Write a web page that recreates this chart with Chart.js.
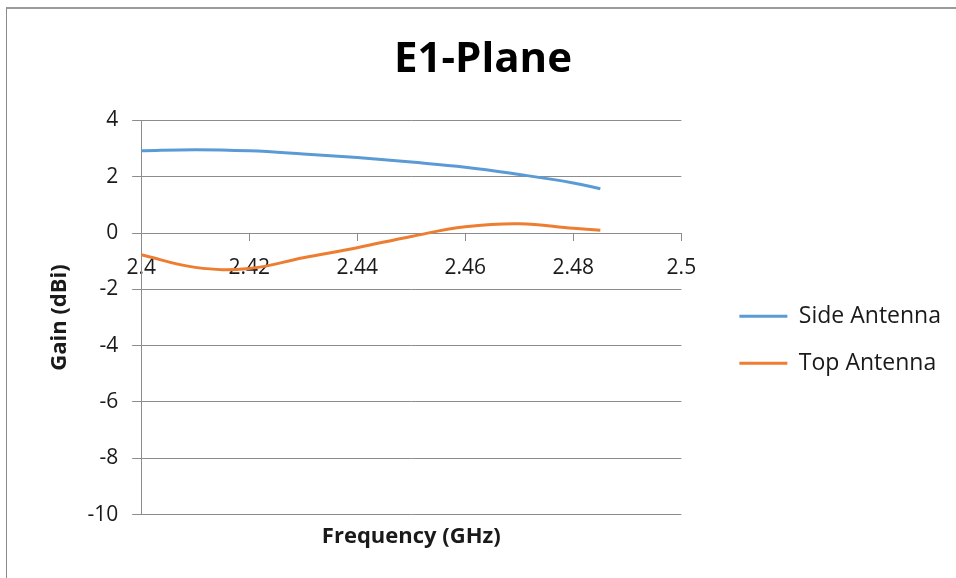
<!DOCTYPE html>
<html>
<head>
<meta charset="utf-8">
<script src="https://cdn.jsdelivr.net/npm/chart.js@4.4.1/dist/chart.umd.min.js"></script>
<style>
	html, body { margin: 0; padding: 0; background: #fff; }
	#wrap { position: relative; width: 956px; height: 578px; overflow: hidden; }
	#frame {
		position: absolute; left: 6px; top: 7px; right: -2px; bottom: -2px;
		border-top: 2px solid #9b9b9b; border-left: 1px solid #8a8a8a;
		pointer-events: none;
	}
</style>
</head>
<body>
<div id="wrap">
	<canvas id="chart-e1-plane" width="956" height="578"></canvas>
	<div id="frame"></div>
</div>
<script>
// Data
const FREQ_GHZ = [2.4, 2.41, 2.42, 2.43, 2.44, 2.45, 2.46, 2.47, 2.48, 2.485];
const SIDE_GAIN = [2.92, 2.96, 2.92, 2.81, 2.68, 2.52, 2.34, 2.08, 1.78, 1.57];
const TOP_GAIN = [-0.77, -1.22, -1.26, -0.88, -0.52, -0.12, 0.22, 0.33, 0.17, 0.1];

const X_TICKS = [2.4, 2.42, 2.44, 2.46, 2.48, 2.5];
const Y_TICKS = [-10, -8, -6, -4, -2, 0, 2, 4];

const COLORS = {
	side: "#5b9bd5",
	top: "#ed7d31",
	grid: "#8c8c8c",
	text: "#1a1a1a",
};
const FONT = "'Open Sans', sans-serif";

const toPoints = (ys) => FREQ_GHZ.map((x, i) => ({ x, y: ys[i] }));

const lineDataset = (label, ys, color) => ({
	label,
	data: toPoints(ys),
	borderColor: color,
	backgroundColor: color,
	borderWidth: 3,
	tension: 0.4,
	pointRadius: 0,
	pointHoverRadius: 0,
	fill: false,
});

const CHART_DATA = {
	datasets: [
		lineDataset("Side Antenna", SIDE_GAIN, COLORS.side),
		lineDataset("Top Antenna", TOP_GAIN, COLORS.top),
	],
};

const CHART_CONFIG = {
	type: "line",
	data: CHART_DATA,
	options: {
		responsive: false,
		animation: false,
		devicePixelRatio: 1,
		layout: {
			padding: { left: 15, right: 5, top: 10, bottom: 28 },
		},
		scales: {
			x: {
				type: "linear",
				position: { y: 0 },
				min: X_TICKS[0],
				max: X_TICKS[X_TICKS.length - 1],
				z: 1,
				afterBuildTicks: (scale) => {
					scale.ticks = X_TICKS.map((value) => ({ value }));
				},
				border: { display: true, color: COLORS.grid, width: 1 },
				grid: {
					drawOnChartArea: false,
					drawTicks: true,
					tickLength: 7,
					color: COLORS.grid,
				},
				ticks: {
					color: COLORS.text,
					font: { family: FONT, size: 21 },
					padding: 15,
					maxRotation: 0,
					autoSkip: false,
					callback: (value) => String(Number(value.toFixed(2))),
				},
			},
			y: {
				type: "linear",
				position: "left",
				min: Y_TICKS[0],
				max: Y_TICKS[Y_TICKS.length - 1],
				afterBuildTicks: (scale) => {
					scale.ticks = Y_TICKS.map((value) => ({ value }));
				},
				border: { display: true, color: COLORS.grid, width: 1 },
				grid: {
					color: COLORS.grid,
					lineWidth: 1,
					tickLength: 9,
				},
				ticks: {
					color: COLORS.text,
					font: { family: FONT, size: 21 },
					padding: 14,
				},
				title: {
					display: true,
					text: "Gain (dBi)",
					color: COLORS.text,
					font: { family: FONT, size: 22, weight: "bold" },
					padding: { top: 32, bottom: 0 },
				},
			},
			// spacer between the plot and the legend
			gap: {
				type: "linear",
				position: "right",
				display: true,
				min: 0,
				max: 1,
				border: { display: false },
				grid: { display: false, drawTicks: false },
				ticks: { display: false },
				afterFit: (scale) => {
					scale.width = 34;
				},
			},
		},
		plugins: {
			title: {
				display: true,
				text: "E1-Plane",
				color: "#000",
				font: { family: FONT, size: 42, weight: "bold" },
				padding: { top: 25, bottom: 35 },
			},
			subtitle: {
				display: true,
				position: "bottom",
				fullSize: false,
				text: "Frequency (GHz)",
				color: COLORS.text,
				font: { family: FONT, size: 22, weight: "bold" },
				padding: { top: 9, bottom: 0 },
			},
			legend: {
				display: true,
				position: "right",
				align: "center",
				maxWidth: 300,
				// empty title only pushes the entries down to the plot's middle
				title: {
					display: true,
					text: "",
					font: { size: 12 },
					padding: { top: 0, bottom: 105 },
				},
				labels: {
					usePointStyle: true,
					pointStyle: "line",
					pointStyleWidth: 48,
					color: COLORS.text,
					font: { family: FONT, size: 23 },
					padding: 24,
				},
			},
			tooltip: { enabled: false },
		},
	},
};

const CHART_WRAPPER = document.getElementById("chart-e1-plane");
if (CHART_WRAPPER) {
	new Chart(CHART_WRAPPER, CHART_CONFIG);
}
</script>
</body>
</html>
